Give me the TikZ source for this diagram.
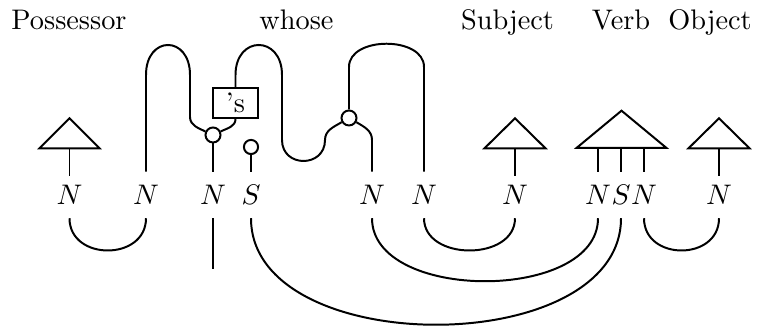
\documentclass[tikz,border=0pt]{standalone}
\usepackage{tikz}
\usepackage{amsmath}

\begin{document}
\begin{tikzpicture}[
    x=1.242mm, y=1.242mm,
    wire/.style={line width=0.7pt},
    lab/.style={inner xsep=0pt, inner ysep=4.6pt},
    word/.style={anchor=base, inner sep=0pt},
    spider/.style={circle, draw, line width=0.7pt, fill=white, minimum size=5.3pt, inner sep=0pt},
    box/.style={draw, line width=0.7pt, minimum width=15.9pt, minimum height=10.6pt, inner sep=0pt}
]
    \useasboundingbox (0,0) rectangle (76.6,32.7);

    % Words
    \node[word] (wposs) at (6.9, 29.7) {Possessor};
    \node[word] (wwhose) at (29.65, 29.7) {whose};
    \node[word] (wsubj) at (50.75, 29.7) {Subject};
    \node[word] (wverb) at (62.1, 29.7) {Verb};
    \node[word] (wobj) at (71.0, 29.7) {Object};

    % Types
    \node[lab] (n1) at (6.95, 13.2) {$N$};
    \node[lab] (n2) at (14.6, 13.2) {$N$};
    \node[lab] (n3) at (21.3, 13.2) {$N$};
    \node[lab] (s1) at (25.1, 13.2) {$S$};
    \node[lab] (n4) at (37.2, 13.2) {$N$};
    \node[lab] (n5) at (42.4, 13.2) {$N$};
    \node[lab] (n6) at (51.5, 13.2) {$N$};
    \node[lab] (n7) at (59.8, 13.2) {$N$};
    \node[lab] (s2) at (62.1, 13.2) {$S$};
    \node[lab] (n8) at (64.4, 13.2) {$N$};
    \node[lab] (n9) at (71.9, 13.2) {$N$};

    % States
    \draw[wire] (3.95, 17.87) -- (6.95, 20.87) -- (9.95, 17.87) -- cycle;
    \coordinate (tposs) at (6.95, 17.87);
    \draw[wire, shorten >=-1.6pt] (tposs) -- (n1);

    \draw[wire] (48.45, 17.87) -- (51.5, 20.87) -- (54.55, 17.87) -- cycle;
    \coordinate (tsubj) at (51.5, 17.87);
    \draw[wire, shorten >=-1.6pt] (tsubj) -- (n6);

    \draw[wire] (57.65, 17.9) -- (62.15, 21.63) -- (66.65, 17.9) -- cycle;
    \coordinate (tverbl) at (59.8, 17.9);
    \coordinate (tverbm) at (62.1, 17.9);
    \coordinate (tverbr) at (64.4, 17.9);
    \draw[wire] (tverbl) -- (n7);
    \draw[wire] (tverbm) -- (s2);
    \draw[wire] (tverbr) -- (n8);

    \draw[wire] (68.85, 17.87) -- (71.9, 20.87) -- (74.95, 17.87) -- cycle;
    \coordinate (tobj) at (71.9, 17.87);
    \draw[wire, shorten >=-1.6pt] (tobj) -- (n9);

    % whose
    \node[spider] (c1) at (21.3, 19.2) {};
    \node[spider] (c2) at (34.9, 20.9) {};
    \node[spider, minimum size=5pt] (c3) at (25.1, 18.0) {};
    \node[box] (gen) at (23.55, 22.4) {'s};

    \draw[wire] (c1) -- (n3);
    \draw[wire] (c3) -- (s1);
    \draw[wire] (c1.155) to[out=155, in=-90] (19.0, 21.0) -- (19.0, 25.2)
        .. controls (19.0, 29.2) and (14.6, 29.2) .. (14.6, 25.2) -- (n2);
    \draw[wire] (c1.25) to[out=25, in=-90] (gen.south);
    \draw[wire] (gen.north) -- (23.55, 25.2)
        .. controls (23.55, 29.2) and (28.2, 29.2) .. (28.2, 25.2) -- (28.2, 18.7)
        .. controls (28.2, 15.9) and (32.5, 15.9) .. (32.5, 18.7)
        to[out=90, in=210] (c2.210);
    \draw[wire] (c2.north) -- (34.9, 26.0)
        .. controls (34.9, 29.1) and (42.4, 29.1) .. (42.4, 26.0) -- (n5);
    \draw[wire] (c2.330) to[out=-30, in=90] (37.2, 18.7) -- (n4);

    % Cups
    \coordinate (n3end) at (21.3, 5.8);
    \draw[wire] (n3) -- (n3end);
    \draw[wire] (n1.south) .. controls +(0, -4.3) and +(0, -4.3) .. (n2.south);
    \draw[wire] (n5.south) .. controls +(0, -4.3) and +(0, -4.3) .. (n6.south);
    \draw[wire] (n8.south) .. controls +(0, -4.3) and +(0, -4.3) .. (n9.south);
    \draw[wire] (n4.south) .. controls +(0, -8.4) and +(0, -8.4) .. (n7.south);
    \draw[wire] (s1.south) .. controls +(0, -14.2) and +(0, -14.2) .. (s2.south);
\end{tikzpicture}
\end{document}
